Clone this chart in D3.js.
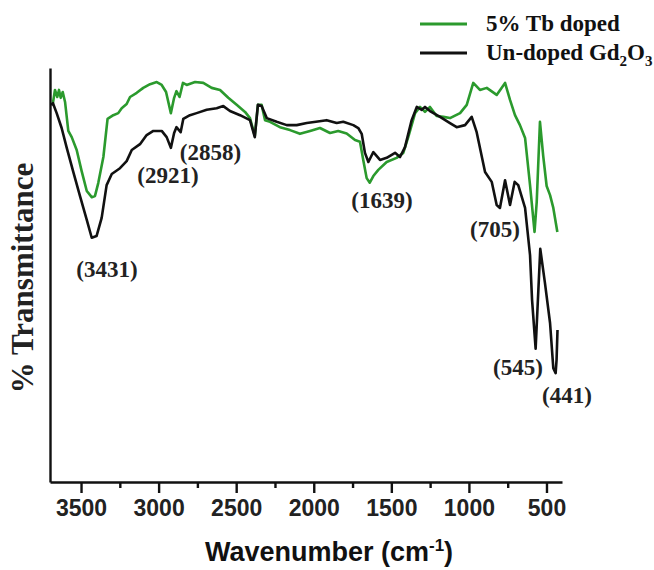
<!DOCTYPE html>
<html>
<head>
<meta charset="utf-8">
<script src="https://cdn.jsdelivr.net/npm/d3@7"></script>
<style>
  body { margin: 0; background: #fff; }
  svg { display: block; }
</style>
</head>
<body>
<svg id="chart" width="654" height="570"></svg>
<script>
// FTIR spectra: Tb-doped vs un-doped Gd2O3
const tickValues = [3500, 3000, 2500, 2000, 1500, 1000, 500];
const minorTickValues = [3250, 2750, 2250, 1750, 1250, 750];
const seriesNames = ["5% Tb doped", "Un-doped Gd2O3"];

// 5% Tb doped: wavenumber (cm-1) and transmittance (a.u.)
const dopedWn = [3683,3668,3653,3642,3631,3618,3603,3582,3560,3528,3496,3463,3431,3410,3389,3356,3329,3292,3260,3238,3206,3184,3141,3099,3055,3012,2980,2952,2921,2900,2885,2865,2843,2819,2765,2712,2658,2604,2551,2497,2443,2411,2380,2360,2336,2314,2282,2218,2153,2089,2024,1960,1895,1842,1788,1734,1702,1681,1659,1639,1616,1584,1530,1466,1423,1391,1347,1315,1283,1251,1208,1165,1122,1057,1014,972,929,885,821,767,735,703,671,638,606,577,563,542,521,499,477,456,430];
const dopedT = [91.1,94.7,93.0,94.7,92.8,94.2,91.8,84.8,83.3,80.2,75.1,70.3,68.8,69.1,72.2,78.5,87.7,88.6,89.1,90.3,91.3,93.0,94.0,95.2,96.1,96.6,95.9,94.2,89.1,92.8,94.4,93.0,96.4,95.9,96.6,96.4,95.2,94.7,92.8,91.1,89.4,87.9,83.6,91.1,91.1,87.4,87.0,85.7,85.0,84.1,84.8,85.5,84.3,84.8,84.2,82.6,82.2,77.8,73.4,72.3,73.9,75.4,77.3,78.3,79.5,83.3,89.1,90.6,89.4,90.6,88.4,88.2,87.9,89.1,91.1,96.4,94.7,95.2,93.5,96.4,92.3,88.6,86.2,83.1,71.7,60.4,67.6,87.0,78.7,71.5,69.3,66.2,60.4];

// Un-doped Gd2O3
const undopedWn = [3694,3681,3657,3625,3592,3550,3507,3463,3431,3400,3367,3335,3302,3249,3206,3173,3120,3077,3034,2980,2948,2921,2900,2885,2858,2841,2798,2755,2690,2626,2583,2540,2475,2411,2380,2360,2336,2303,2239,2174,2110,2045,1986,1917,1852,1810,1745,1713,1691,1670,1648,1616,1573,1530,1476,1444,1412,1369,1336,1304,1283,1251,1186,1122,1079,1025,982,950,896,853,821,800,767,735,705,682,638,606,593,570,540,510,477,456,441,435,429];
const undopedT = [91.1,91.5,89.1,85.5,80.7,74.9,69.1,63.3,59.0,59.4,63.8,71.7,74.4,75.8,77.5,80.2,81.6,83.8,84.8,84.8,83.3,80.7,84.3,85.7,84.5,87.7,88.6,89.1,89.9,90.3,90.8,89.6,88.6,87.4,83.3,91.1,90.8,87.9,87.0,86.2,86.2,86.7,87.0,87.4,86.7,87.0,86.2,85.5,84.1,79.5,77.3,79.7,77.8,78.3,79.5,78.5,80.9,87.4,90.6,89.9,90.6,89.6,88.2,86.7,85.7,86.2,88.2,84.5,74.9,72.5,66.9,66.2,72.9,66.9,72.5,71.7,66.2,54.8,44.0,32.2,56.3,48.1,38.4,27.5,26.3,29.5,36.7];

// Band assignments and where their labels sit (wavenumber, transmittance)
const peakLabels = ["(3431)", "(2921)", "(2858)", "(1639)", "(705)", "(545)", "(441)"];
const peakLabelWn = [3333, 2940, 2666, 1560, 832, 684, 368];
const peakLabelT = [49.5, 72.2, 77.8, 66.2, 59.2, 25.8, 19.1];

const colors = ["#2b9a2d", "#111111"];

const svg = d3.select("#chart");
const x = d3.scaleLinear().domain([3700, 400]).range([50, 562]);
const y = d3.scaleLinear().domain([0, 100]).range([482, 68]);

const serif = "'Liberation Serif', 'Times New Roman', serif";
const sans = "'Liberation Sans', Arial, sans-serif";

// Bottom axis with major labelled ticks
const xAxis = svg.append("g")
  .attr("transform", `translate(0,${y(0)})`)
  .call(d3.axisBottom(x).tickValues(tickValues).tickFormat(d3.format("d"))
    .tickSize(11).tickSizeOuter(0).tickPadding(7));
xAxis.select(".domain").attr("stroke", "#111").attr("stroke-width", 2.4);
xAxis.selectAll(".tick line").attr("stroke", "#111").attr("stroke-width", 2.4);
xAxis.selectAll(".tick text")
  .attr("fill", "#222")
  .style("font-family", sans)
  .style("font-weight", "bold")
  .style("font-size", "23px");

// Minor ticks
const xMinor = svg.append("g")
  .attr("transform", `translate(0,${y(0)})`)
  .call(d3.axisBottom(x).tickValues(minorTickValues).tickSize(6).tickFormat(""));
xMinor.select(".domain").remove();
xMinor.selectAll(".tick line").attr("stroke", "#111").attr("stroke-width", 2.4);

// Left axis: plain line, no ticks
const yAxis = svg.append("g")
  .attr("transform", `translate(${x(3700)},0)`)
  .call(d3.axisLeft(y).tickValues([]).tickSizeOuter(0));
yAxis.select(".domain").attr("stroke", "#111").attr("stroke-width", 2.4);

// Spectra
const line = d3.line().x(d => x(d[0])).y(d => y(d[1]));
const series = [d3.zip(dopedWn, dopedT), d3.zip(undopedWn, undopedT)];
svg.selectAll("path.spectrum")
  .data(series)
  .join("path")
  .attr("class", "spectrum")
  .attr("fill", "none")
  .attr("stroke", (d, i) => colors[i])
  .attr("stroke-width", 2.6)
  .attr("stroke-linejoin", "round")
  .attr("d", line);

// Band labels
svg.selectAll("text.peak")
  .data(peakLabels)
  .join("text")
  .attr("class", "peak")
  .attr("x", (d, i) => x(peakLabelWn[i]))
  .attr("y", (d, i) => y(peakLabelT[i]))
  .attr("text-anchor", "middle")
  .attr("fill", "#222")
  .style("font-family", serif)
  .style("font-weight", "bold")
  .style("font-size", "23px")
  .text(d => d);

// Axis titles
const xTitle = svg.append("text")
  .attr("x", 329)
  .attr("y", 561)
  .attr("text-anchor", "middle")
  .attr("fill", "#111")
  .style("font-family", sans)
  .style("font-weight", "bold")
  .style("font-size", "27px");
xTitle.append("tspan").text("Wavenumber (cm");
xTitle.append("tspan").attr("dy", -10).style("font-size", "17px").text("-1");
xTitle.append("tspan").attr("dy", 10).text(")");

svg.append("text")
  .attr("transform", "translate(33,278) rotate(-90)")
  .attr("text-anchor", "middle")
  .attr("fill", "#222")
  .style("font-family", serif)
  .style("font-weight", "bold")
  .style("font-size", "31px")
  .text("% Transmittance");

// Legend
const legend = svg.append("g").attr("transform", "translate(420,0)");
const legendRows = legend.selectAll("g")
  .data(seriesNames)
  .join("g")
  .attr("transform", (d, i) => `translate(0,${24 + i * 29})`);
legendRows.append("line")
  .attr("x1", 0).attr("x2", 47)
  .attr("stroke", (d, i) => colors[i])
  .attr("stroke-width", 3);
const legendText = legendRows.append("text")
  .attr("x", 66)
  .attr("y", 7)
  .attr("fill", "#111")
  .style("font-family", serif)
  .style("font-weight", "bold")
  .style("font-size", "23px");
legendText.filter((d, i) => i === 0).text(d => d);
const ud = legendText.filter((d, i) => i === 1);
ud.append("tspan").text("Un-doped Gd");
ud.append("tspan").attr("dy", 6).style("font-size", "15px").text("2");
ud.append("tspan").attr("dy", -6).text("O");
ud.append("tspan").attr("dy", 6).style("font-size", "15px").text("3");
</script>
</body>
</html>
